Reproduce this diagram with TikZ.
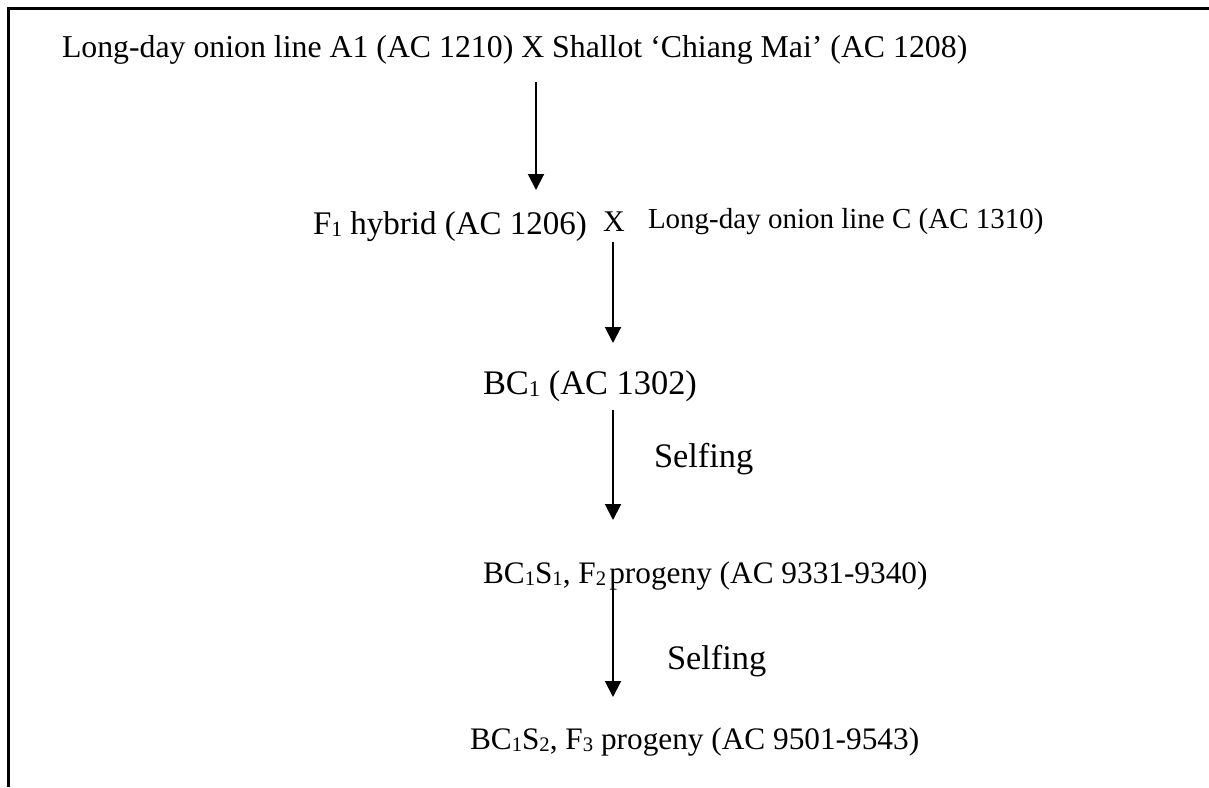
\documentclass[tikz,border=0pt]{standalone}
\usepackage{fontspec}
\setmainfont{Liberation Serif}
\usetikzlibrary{arrows.meta}
\newcommand\lowsub[1]{\raisebox{-0.08em}{\fontsize{0.66em}{0.66em}\selectfont #1}}
\begin{document}
\begin{tikzpicture}[x=1pt,y=-1pt,
  lbl/.style={inner sep=0pt,outer sep=0pt,anchor=base west,font=\fontsize{31.8pt}{36pt}\selectfont},
  lblbig/.style={lbl,font=\fontsize{34.4pt}{38pt}\selectfont},
  lblf/.style={lbl,font=\fontsize{33pt}{37pt}\selectfont},
  lblmid/.style={lbl,font=\fontsize{31.3pt}{36pt}\selectfont},
  lblsmall/.style={lbl,font=\fontsize{29pt}{33pt}\selectfont},
  lblx/.style={lbl,font=\fontsize{30pt}{34pt}\selectfont},
  flow/.style={line width=2pt,-{Triangle[width=16pt,length=16pt]}}]
\useasboundingbox (0,0) rectangle (1209,787);
\draw[line width=3pt] (8.5,787) -- (8.5,8.5) -- (1209,8.5);
% texts
\node[lbl] (l1) at (62,57) {Long-day onion line A1 (AC 1210) X Shallot ‘Chiang Mai’ (AC 1208)};
\node[lblf] (f1) at (313,234) {F\lowsub{1} hybrid (AC 1206)};
\node[lblx] (x2) at (603,231) {X};
\node[lblsmall] (lc) at (648,228) {Long-day onion line C (AC 1310)};
\node[lblbig] (bc1) at (483,394) {BC\lowsub{1} (AC 1302)};
\node[lblbig] (self1) at (654,467) {Selfing};
\node[lblmid] (bcs1) at (483,583) {BC\lowsub{1}S\lowsub{1}, F\lowsub{2}\hspace{0.1em}progeny (AC 9331-9340)};
\node[lblbig] (self2) at (667,669) {Selfing};
\node[lblmid] (bcs2) at (470,749) {BC\lowsub{1}S\lowsub{2}, F\lowsub{3} progeny (AC 9501-9543)};
% arrow ends
\coordinate (a1s) at (536,82);  \coordinate (a1e) at (536,190);
\coordinate (a2s) at (613,242); \coordinate (a2e) at (613,343);
\coordinate (a3s) at (613,410); \coordinate (a3e) at (613,520);
\coordinate (a4s) at (613,588); \coordinate (a4e) at (613,697);
\draw[flow] (a1s) -- (a1e);
\draw[flow] (a2s) -- (a2e);
\draw[flow] (a3s) -- (a3e);
\draw[flow] (a4s) -- (a4e);
\end{tikzpicture}
\end{document}
